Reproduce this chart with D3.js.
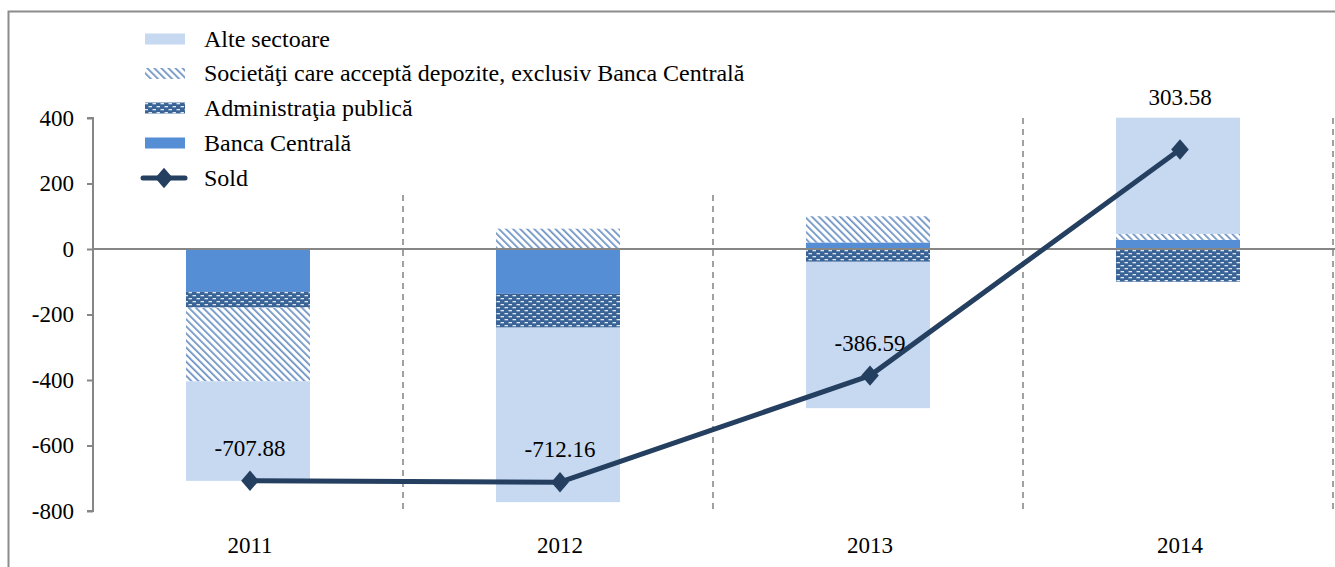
<!DOCTYPE html>
<html>
<head>
<meta charset="utf-8">
<script src="https://cdn.jsdelivr.net/npm/d3@7"></script>
<style>
  html, body { margin: 0; padding: 0; background: #fff; }
  svg { display: block; }
  text { font-family: "Liberation Serif", "Times New Roman", serif; fill: #000; }
</style>
</head>
<body>
<svg id="chart" width="1335" height="567"></svg>
<script>
const categories = ["2011", "2012", "2013", "2014"];
const bancaCentrala = [-131, -137, 20, 28];
const administratiaPublica = [-48, -103, -39, -100];
const societati = [-225, 62, 80, 18];
const alteSectoare = [-304, -533, -447, 355];
const sold = [-707.88, -712.16, -386.59, 303.58];
const yTicks = [400, 200, 0, -200, -400, -600, -800];
const seriesNames = {
  bc: "Banca Centrală",
  adm: "Administraţia publică",
  soc: "Societăţi care acceptă depozite, exclusiv Banca Centrală",
  alte: "Alte sectoare",
  sold: "Sold"
};

const locale = d3.formatLocale({ decimal: ".", thousands: ",", grouping: [3], currency: ["", ""], minus: "-" });
const fmtInt = locale.format("d");
const fmt2 = locale.format(".2f");

const svg = d3.select("#chart");
const W = 1335, H = 567;
const plot = { left: 93, right: 1333, top: 118, bottom: 511 };

// defs: patterns
const defs = svg.append("defs");
const hatch = defs.append("pattern").attr("id", "hatch")
  .attr("patternUnits", "userSpaceOnUse").attr("width", 5).attr("height", 5)
  .attr("patternTransform", "rotate(-45)");
hatch.append("rect").attr("width", 5).attr("height", 5).attr("fill", "#ffffff");
hatch.append("rect").attr("x", 0).attr("y", 0).attr("width", 1.7).attr("height", 5).attr("fill", "#6a90c2");

const dots = defs.append("pattern").attr("id", "dots")
  .attr("patternUnits", "userSpaceOnUse").attr("width", 8).attr("height", 6);
dots.append("rect").attr("width", 8).attr("height", 6).attr("fill", "#3a6396");
dots.append("rect").attr("x", 0.5).attr("y", 1).attr("width", 3.5).attr("height", 1.3).attr("fill", "#dfe7f1");
dots.append("rect").attr("x", 4.5).attr("y", 4).attr("width", 3.5).attr("height", 1.3).attr("fill", "#dfe7f1");

const fills = { bc: "#558ed5", adm: "url(#dots)", soc: "url(#hatch)", alte: "#c6d9f1" };

// chart border
svg.append("rect").attr("x", 8.5).attr("y", 11.5).attr("width", W + 20).attr("height", H + 20)
  .attr("fill", "none").attr("stroke", "#8c8c8c").attr("stroke-width", 2);

// scales
const x = d3.scaleBand().domain(categories).range([plot.left, plot.right]).paddingInner(0).paddingOuter(0);
const y = d3.scaleLinear().domain([-800, 400]).range([plot.bottom, plot.top]);

// vertical dashed separators
const seps = categories.map((c) => x(c) + x.bandwidth());
svg.append("g").selectAll("line").data(seps).join("line")
  .attr("x1", d => d).attr("x2", d => d)
  .attr("y1", plot.top).attr("y2", plot.bottom)
  .attr("stroke", "#8a8a8a").attr("stroke-width", 1.6).attr("stroke-dasharray", "6,5");

// stacked bars
const rows = categories.map((c, i) => ({
  cat: c, bc: bancaCentrala[i], adm: administratiaPublica[i], soc: societati[i], alte: alteSectoare[i]
}));
const keys = ["bc", "adm", "soc", "alte"];
const stack = d3.stack().keys(keys).offset(d3.stackOffsetDiverging)(rows);
const barW = x.bandwidth() * 0.4;
svg.append("g").selectAll("g").data(stack).join("g")
  .attr("fill", d => fills[d.key])
  .selectAll("rect").data(d => d).join("rect")
  .attr("x", d => x(d.data.cat) + (x.bandwidth() - barW) / 2)
  .attr("width", barW)
  .attr("y", d => y(Math.max(d[0], d[1])))
  .attr("height", d => Math.abs(y(d[0]) - y(d[1])));

// positive stack tops per category
const posTop = categories.map((c, i) => d3.max(stack, s => Math.max(s[i][0], s[i][1])));

// y axis
const yAxis = d3.axisLeft(y).tickValues(yTicks).tickSize(6).tickPadding(13).tickFormat(fmtInt);
const ga = svg.append("g").attr("transform", `translate(${plot.left},0)`).call(yAxis);
ga.attr("font-family", null);
ga.select(".domain").attr("stroke", "#868686").attr("stroke-width", 2).attr("d", `M-6,${y(400)}H0V${y(-800)}H-6`);
ga.selectAll(".tick line").attr("stroke", "#868686").attr("stroke-width", 2);
ga.selectAll(".tick text").style("font-family", "Liberation Serif").style("font-size", "23px").attr("fill", "#000");

// zero line
svg.append("line").attr("x1", plot.left).attr("x2", plot.right + 2)
  .attr("y1", y(0)).attr("y2", y(0)).attr("stroke", "#868686").attr("stroke-width", 2);

// x category labels
svg.append("g").selectAll("text").data(categories).join("text")
  .attr("x", d => x(d) + x.bandwidth() / 2 + 2).attr("y", 553)
  .attr("text-anchor", "middle").style("font-size", "23px").text(d => d);

// sold line
const pts = categories.map((c, i) => ({ cat: c, i: i, v: sold[i] }));
const cx = d => x(d.cat) + x.bandwidth() / 2 + 2;
const line = d3.line().x(cx).y(d => y(d.v));
svg.append("path").datum(pts).attr("d", line)
  .attr("fill", "none").attr("stroke", "#243f60").attr("stroke-width", 5).attr("stroke-linejoin", "round");
const diamond = d3.symbol().type(d3.symbolDiamond2).size(220);
svg.append("g").selectAll("path").data(pts).join("path")
  .attr("transform", d => `translate(${cx(d)},${y(d.v)}) scale(0.95,1.1)`)
  .attr("d", diamond).attr("fill", "#243f60");

// data labels
svg.append("g").selectAll("text").data(pts).join("text")
  .attr("x", cx)
  .attr("y", d => d.v >= 0 ? y(posTop[d.i]) - 13 : y(d.v) - 25)
  .attr("text-anchor", "middle").style("font-size", "23px")
  .text(d => fmt2(d.v));

// legend
const legend = svg.append("g");
legend.append("rect").attr("x", 135).attr("y", 20).attr("width", 625).attr("height", 172).attr("fill", "#fff");
const legItems = [
  { key: "alte", label: seriesNames.alte },
  { key: "soc", label: seriesNames.soc },
  { key: "adm", label: seriesNames.adm },
  { key: "bc", label: seriesNames.bc },
  { key: "sold", label: seriesNames.sold }
];
const legY = [39, 73.5, 108, 143, 178];
legItems.forEach((it, i) => {
  const cy = legY[i];
  if (it.key === "sold") {
    legend.append("line").attr("x1", 143).attr("x2", 185).attr("y1", cy).attr("y2", cy)
      .attr("stroke", "#243f60").attr("stroke-width", 5).attr("stroke-linecap", "round");
    legend.append("path").attr("transform", `translate(164,${cy}) scale(0.95,1.1)`).attr("d", diamond).attr("fill", "#243f60");
  } else {
    legend.append("rect").attr("x", 145).attr("y", cy - 5.5).attr("width", 40).attr("height", 11)
      .attr("fill", fills[it.key]);
  }
  legend.append("text").attr("x", 204).attr("y", cy).attr("dy", "0.33em")
    .style("font-size", "24px").text(it.label);
});
</script>
</body>
</html>
